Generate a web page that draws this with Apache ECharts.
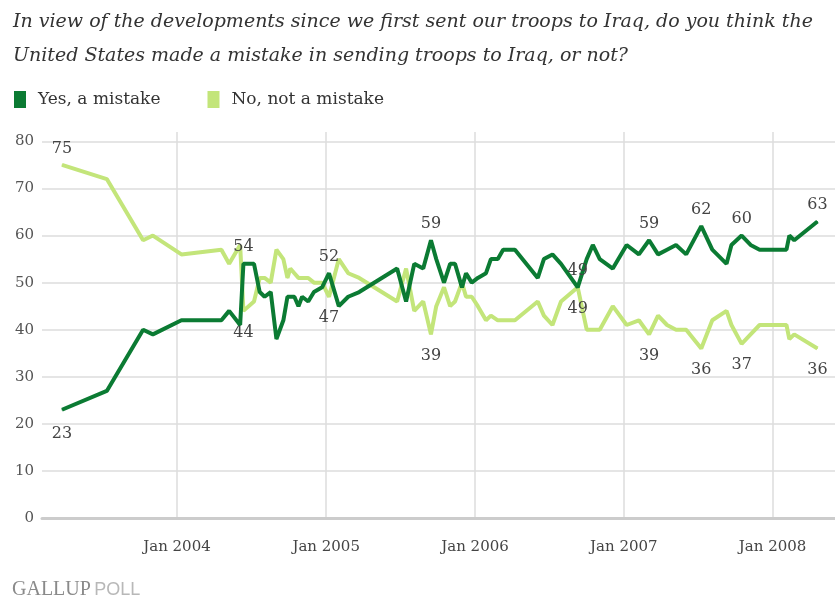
<!DOCTYPE html>
<html><head><meta charset="utf-8">
<script src="https://cdn.jsdelivr.net/npm/echarts@6/dist/echarts.min.js"></script>
<style>html,body{margin:0;padding:0;background:#fff}#c{width:835px;height:602px}</style>
</head><body><div id="c"></div>
<script>
var titleText = 'In view of the developments since we first sent our troops to Iraq, do you think the\nUnited States made a mistake in sending troops to Iraq, or not?';
var seriesNames = ['Yes, a mistake', 'No, not a mistake'];
var dates = ['2003-03-25','2003-07-13','2003-10-10','2003-11-03','2004-01-12','2004-04-19','2004-05-08','2004-06-04','2004-06-12','2004-07-08',
 '2004-07-22','2004-08-03','2004-08-18','2004-09-01','2004-09-18','2004-09-28','2004-10-05','2004-10-15','2004-10-25','2004-11-03',
 '2004-11-18','2004-12-02','2004-12-22','2005-01-08','2005-02-01','2005-02-24','2005-03-23','2005-06-24','2005-07-16','2005-08-05',
 '2005-08-27','2005-09-15','2005-09-28','2005-10-17','2005-11-01','2005-11-13','2005-11-30','2005-12-10','2005-12-24','2006-01-08',
 '2006-01-28','2006-02-09','2006-02-26','2006-03-11','2006-04-09','2006-06-04','2006-06-19','2006-07-10','2006-07-31','2006-09-10',
 '2006-10-02','2006-10-17','2006-11-03','2006-12-05','2007-01-08','2007-02-07','2007-03-04','2007-03-26','2007-04-17','2007-05-09',
 '2007-06-03','2007-07-10','2007-08-06','2007-09-10','2007-09-22','2007-10-17','2007-11-08','2007-11-30','2008-02-04','2008-02-11',
 '2008-02-23','2008-04-20'];
var yesValues = [23,27,40,39,42,42,44,41,54,54,
 48,47,48,38,42,47,47,47,45,47,
 46,48,49,52,45,47,48,53,46,54,
 53,59,55,50,54,54,49,52,50,51,
 52,55,55,57,57,51,55,56,54,49,
 55,58,55,53,58,56,59,56,57,58,
 56,62,57,54,58,60,58,57,57,60,
 59,63];
var noValues = [75,72,59,60,56,57,54,58,44,46,
 51,51,50,57,55,51,53,52,51,51,
 51,50,50,47,55,52,51,46,53,44,
 46,39,45,49,45,46,50,47,47,45,
 42,43,42,42,42,46,43,41,46,49,
 40,40,40,45,41,42,39,43,41,40,
 40,36,42,44,41,37,39,41,41,38,
 39,36];
var labeledIdx = [0,8,23,31,49,56,61,65,71];
var yTicks = [0,10,20,30,40,50,60,70,80];
var yTop = 82;
var xMin = '2003-02-04', xMax = '2008-06-02';

var darkGreen = '#0b7b33', lightGreen = '#c3e57a';
var serif = 'DejaVu Serif';

function buildData(vals, upFirst) {
  return dates.map(function (d, i) {
    var item = { value: [d, vals[i]] };
    if (labeledIdx.indexOf(i) >= 0) {
      var up = (i === 0) ? !upFirst : upFirst;
      item.label = { show: true, position: up ? 'top' : 'bottom', distance: up ? 8 : (i === 0 ? 16 : 13) };
    }
    return item;
  });
}

var chart = echarts.init(document.getElementById('c'), null, { renderer: 'canvas' });
var labelStyle = { fontFamily: serif, fontSize: 16, color: '#444', formatter: function (p) { return p.value[1]; } };
chart.setOption({
  animation: false,
  backgroundColor: '#fff',
  title: {
    text: titleText, left: 13, top: 5, padding: 0,
    textStyle: { fontFamily: serif, fontStyle: 'italic', fontWeight: 'normal', fontSize: 19, color: '#333', lineHeight: 34 }
  },
  legend: {
    left: 14, top: 91, padding: 0, itemGap: 47, itemWidth: 12, itemHeight: 17, icon: 'rect',
    data: seriesNames,
    textStyle: { fontFamily: serif, fontSize: 17, color: '#333', padding: [0, 0, 0, 7] }
  },
  grid: { left: 42, right: 0, top: 132, bottom: 84 },
  xAxis: {
    type: 'time', min: xMin, max: xMax,
    minInterval: 3600 * 24 * 1000 * 360, splitNumber: 5,
    axisLine: { show: true, lineStyle: { color: '#ccc', width: 3 } },
    axisTick: { show: false },
    axisLabel: {
      fontFamily: serif, fontSize: 15, color: '#444', margin: 22, showMinLabel: false, showMaxLabel: false,
      formatter: function (v) { var d = new Date(v); return (d.getMonth() === 0 && d.getDate() === 1) ? 'Jan ' + d.getFullYear() : ''; }
    },
    splitLine: { show: true, showMinLine: false, showMaxLine: false, lineStyle: { color: '#ddd', width: 1.5 } }
  },
  yAxis: {
    type: 'value', min: yTicks[0], max: yTop, interval: yTicks[1] - yTicks[0],
    axisLine: { show: false }, axisTick: { show: false },
    axisLabel: { fontFamily: serif, fontSize: 15, color: '#555', margin: 8, showMaxLabel: false,
      formatter: function (v) { return yTicks.indexOf(v) >= 0 ? String(v) : ''; } },
    splitLine: { showMaxLine: false, lineStyle: { color: '#ddd', width: 1.5 } }
  },
  graphic: [{
    type: 'text', left: 12, top: 580,
    style: {
      text: '{a|GALLUP} {b|POLL}', rich: {
        a: { fontFamily: 'Liberation Serif', fontSize: 20, fill: '#8a8a8a' },
        b: { fontFamily: 'Liberation Sans', fontSize: 18, fill: '#b8b8b8' }
      }
    }
  }],
  series: [
    { name: seriesNames[1], type: 'line', data: buildData(noValues, false), symbol: 'circle', symbolSize: 1, showAllSymbol: true,
      lineStyle: { color: lightGreen, width: 4 }, itemStyle: { color: lightGreen }, label: labelStyle, z: 2 },
    { name: seriesNames[0], type: 'line', data: buildData(yesValues, true), symbol: 'circle', symbolSize: 1, showAllSymbol: true,
      lineStyle: { color: darkGreen, width: 4 }, itemStyle: { color: darkGreen }, label: labelStyle, z: 3 }
  ],
  color: [lightGreen, darkGreen]
});
</script></body></html>
